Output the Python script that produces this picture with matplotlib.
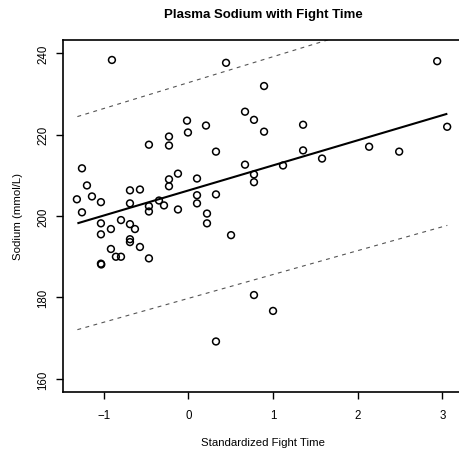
import matplotlib
matplotlib.use("Agg")
import matplotlib.pyplot as plt

fight_time = [-0.902, 0.446, 2.940, 0.895, 0.670, 0.776, -0.015, 0.209, -0.004, -0.228,
              -0.228, -0.465, 0.895, 1.356, 0.327, 0.670, 0.776, 0.776, 3.058, 2.136,
              2.491, 1.356, 1.580, 1.119, -1.256, -1.197, -1.316, -1.138, -1.032, -0.689,
              -0.571, -0.689, -0.465, -0.346, -0.287, -0.228, -0.228, -0.122, 0.103, 0.103,
              0.103, 0.327, -1.256, -1.032, -1.032, -0.914, -0.795, -0.689, -0.630, -0.689,
              -0.689, -0.914, -0.855, -0.795, -1.032, -1.028, -0.571, -0.465, -0.465, -0.122,
              0.221, 0.221, 0.505, 0.776, 0.327, 1.001]
sodium = [238.3, 237.6, 238.0, 231.9, 225.6, 223.6, 223.4, 222.2, 220.5, 219.5,
          217.3, 217.5, 220.7, 222.4, 215.8, 212.6, 210.2, 208.3, 221.9, 217.0,
          215.8, 216.1, 214.1, 212.4, 211.7, 207.5, 204.1, 204.8, 203.4, 206.3,
          206.5, 203.1, 202.4, 203.8, 202.6, 209.0, 207.3, 210.4, 209.2, 205.1,
          203.1, 205.3, 200.9, 198.2, 195.5, 196.8, 199.0, 198.0, 196.8, 194.3,
          193.6, 191.9, 190.0, 190.0, 188.3, 188.1, 192.4, 189.6, 201.1, 201.6,
          200.6, 198.2, 195.3, 180.6, 169.2, 176.7]

line_x = [-1.31, 3.06]
fit_y = [198.2, 225.1]
lower_y = [172.1, 197.7]
upper_y = [224.4, 252.2]

x_ticks = [-1, 0, 1, 2, 3]
y_ticks = [160, 180, 200, 220, 240]

plt.rcParams['font.family'] = ['Liberation Sans', 'DejaVu Sans']

fig = plt.figure(figsize=(4.6, 4.52), dpi=100)
ax = fig.add_axes([63/460, 59/452, 400/460, 352/452])

ax.plot(line_x, fit_y, color='black', lw=1.5, solid_capstyle='butt')
ax.plot(line_x, lower_y, color='#555555', lw=0.8, dashes=(3.5, 4))
ax.plot(line_x, upper_y, color='#555555', lw=0.8, dashes=(3.5, 4))
ax.scatter(fight_time, sodium, s=24, facecolors='none', edgecolors='black', linewidths=1.1, zorder=3)

ax.set_xlim(-1.48, 3.245)
ax.set_ylim(156.8, 243.2)
ax.set_xticks(x_ticks)
ax.set_xticklabels(['\u22121', '0', '1', '2', '3'])
ax.set_yticks(y_ticks)
ax.set_yticklabels([str(v) for v in y_ticks], rotation=90, va='center')
ax.tick_params(direction='out', length=5, width=1, labelsize=8.3)
ax.tick_params(axis='x', pad=7)
ax.tick_params(axis='y', pad=5)
for s in ax.spines.values():
    s.set_linewidth(1.2)
ax.spines['right'].set_visible(False)

ax.set_xlabel('Standardized Fight Time', fontsize=8.2, labelpad=12)
ax.set_ylabel('Sodium (mmol/L)', fontsize=8.2, labelpad=10)
fig.text(263/460, 1 - 15/452, 'Plasma Sodium with Fight Time', ha='center', va='center',
         fontsize=9.5, fontweight='bold')

fig.savefig('out.png', dpi=100)
